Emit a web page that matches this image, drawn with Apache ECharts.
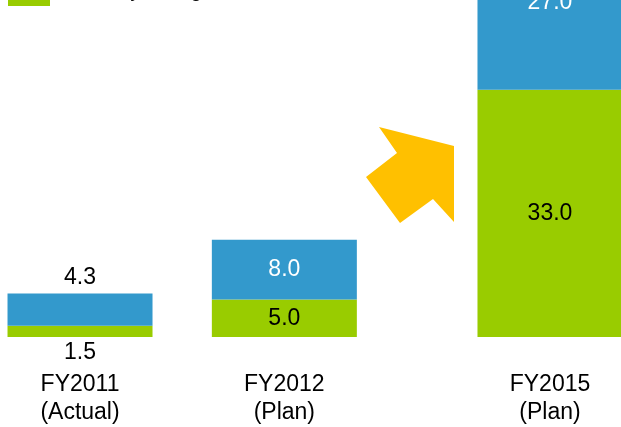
<!DOCTYPE html>
<html>
<head>
<meta charset="utf-8">
<script src="https://cdn.jsdelivr.net/npm/echarts@6/dist/echarts.min.js"></script>
<style>
  html, body { margin: 0; padding: 0; background: #fff; }
  #main { width: 621px; height: 427px; }
</style>
</head>
<body>
<div id="main"></div>
<script>
// 年度ラベル・カテゴリ軸上の位置（空き枠は矢印用）
var years = ['FY2011\n(Actual)', 'FY2012\n(Plan)', 'FY2015\n(Plan)'];
var slots = [0, 10, 23];
var slotCount = 24;
var greenName = 'Electricity storage';
var blueName = 'Other';
var greenValues = [1.5, 5.0, 33.0];
var blueValues = [4.3, 8.0, 27.0];

var font = 'Liberation Sans, Arial, sans-serif';

// カテゴリ配列を作る（空き枠は空文字 / null）
var categories = [];
for (var i = 0; i < slotCount; i++) categories.push('');
slots.forEach(function (s, i) { categories[s] = years[i]; });

function spread(vals, extra) {
	var out = [];
	for (var i = 0; i < slotCount; i++) out.push(null);
	vals.forEach(function (v, i) {
		var item = { value: v };
		if (extra[i]) item.label = extra[i];
		out[slots[i]] = item;
	});
	return out;
}

var greenData = spread(greenValues, [{ position: 'bottom', distance: 4 }]);
var blueData = spread(blueValues, [
	{ position: 'top', color: '#000', distance: 4 },
	null,
	{ offset: [0, 14] }
]);

var myChart = echarts.init(document.getElementById('main'));
var option = {
	animation: false,
	backgroundColor: '#fff',
	legend: {
		data: [greenName],
		left: 3,
		top: -29,
		itemWidth: 42,
		itemHeight: 30,
		icon: 'rect',
		textStyle: { fontFamily: font, fontSize: 20, color: '#000' }
	},
	grid: { left: 69.8, right: 60.8, top: 0, bottom: 90 },
	xAxis: {
		type: 'category',
		data: categories,
		axisLine: { show: false },
		axisTick: { show: false },
		splitLine: { show: false },
		axisLabel: {
			interval: 0,
			margin: 34,
			lineHeight: 28,
			fontSize: 23,
			fontFamily: font,
			color: '#000'
		}
	},
	yAxis: {
		type: 'value',
		min: 0,
		max: 45,
		show: false,
		splitLine: { show: false }
	},
	series: [
		{
			name: greenName,
			type: 'bar',
			stack: 'total',
			barWidth: 145,
			clip: false,
			itemStyle: { color: '#99CC00' },
			label: {
				show: true,
				position: 'inside',
				fontFamily: font,
				fontSize: 23,
				color: '#000',
				formatter: function (p) { return p.value.toFixed(1); }
			},
			data: greenData
		},
		{
			name: blueName,
			type: 'bar',
			stack: 'total',
			barWidth: 145,
			clip: false,
			itemStyle: { color: '#3399CC' },
			label: {
				show: true,
				position: 'inside',
				fontFamily: font,
				fontSize: 23,
				color: '#fff',
				formatter: function (p) { return p.value.toFixed(1); }
			},
			data: blueData
		}
	],
	graphic: [
		{
			type: 'polygon',
			shape: {
				points: [[379, 127], [454, 146], [454, 222], [433, 199], [400, 223], [366, 177], [397, 153]]
			},
			style: { fill: '#FFC000' }
		}
	]
};
myChart.setOption(option);
</script>
</body>
</html>
